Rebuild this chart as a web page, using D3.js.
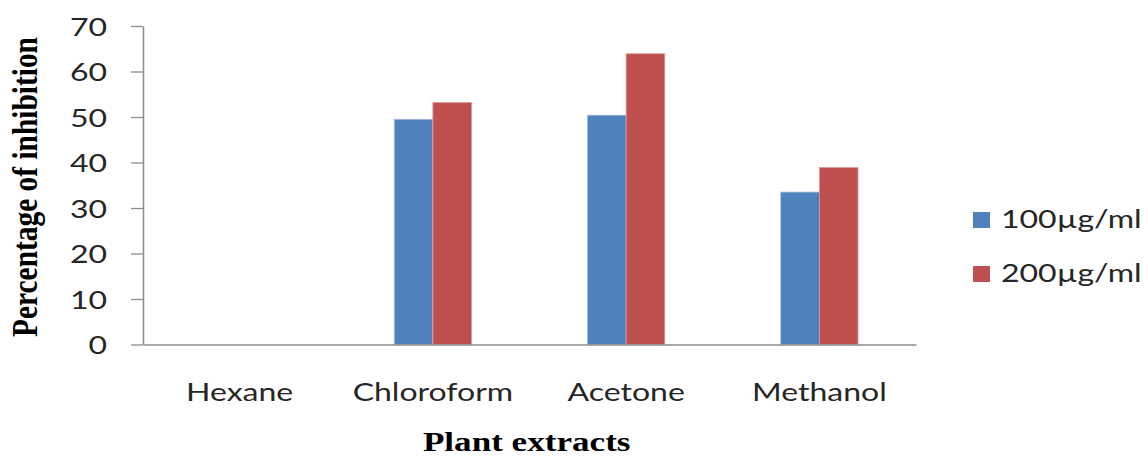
<!DOCTYPE html>
<html>
<head>
<meta charset="utf-8">
<script src="https://cdn.jsdelivr.net/npm/d3@7"></script>
<style>
  html, body { margin: 0; padding: 0; background: #fff; }
  svg { display: block; }
</style>
</head>
<body>
<svg id="chart" width="1148" height="457"></svg>
<script>
const categories = ["Hexane", "Chloroform", "Acetone", "Methanol"];
const seriesNames = ["100\u00b5g/ml", "200\u00b5g/ml"];
const values100 = [0, 49.5, 50.4, 33.5];
const values200 = [0, 53.2, 63.9, 38.9];
const yTicks = [0, 10, 20, 30, 40, 50, 60, 70];
const colors = ["#4F81BD", "#C0504D"];
const strokes = ["#a9c0e0", "#dc9b99"];

const svg = d3.select("#chart");
const SANS = "Lato, 'DejaVu Sans', sans-serif";
const SERIF = "'Liberation Serif', 'Times New Roman', serif";
const SX_SANS = 1.28, SX_SERIF = 1.3;

function stretch(sel, f) {
  sel.each(function () {
    const w = this.getComputedTextLength();
    d3.select(this).attr("textLength", w * f).attr("lengthAdjust", "spacingAndGlyphs");
  });
}

const x = d3.scaleBand().domain(categories).range([143, 916]).paddingInner(0.6).paddingOuter(0.3);
const xs = d3.scaleBand().domain(seriesNames).range([0, x.bandwidth()]);
const y = d3.scaleLinear().domain([0, 70]).range([344.5, 26]);

// bars
const data = categories.map((c, i) => ({ c, vals: [values100[i], values200[i]] }));
const groups = svg.append("g").selectAll("g").data(data).join("g")
  .attr("transform", d => `translate(${x(d.c)},0)`);
groups.selectAll("rect").data(d => d.vals.map((v, k) => ({ v, k })).filter(e => e.v > 0)).join("rect")
  .attr("x", e => xs(seriesNames[e.k]))
  .attr("width", xs.bandwidth())
  .attr("y", e => y(e.v))
  .attr("height", e => y(0) - y(e.v))
  .attr("fill", e => colors[e.k])
  .attr("stroke", e => strokes[e.k])
  .attr("stroke-width", 0.8);

// y axis
const yAxis = svg.append("g").attr("transform", "translate(143,0)")
  .call(d3.axisLeft(y).tickValues(yTicks).tickSize(12).tickPadding(24).tickSizeOuter(0));
yAxis.select(".domain").attr("stroke", "#8c8c8c").attr("stroke-width", 1.5);
yAxis.selectAll(".tick line").attr("stroke", "#8c8c8c").attr("stroke-width", 1.3);
yAxis.selectAll(".tick text").attr("font-family", SANS).attr("font-size", 25).attr("fill", "#262626").attr("dy", "0.36em");
stretch(yAxis.selectAll(".tick text"), SX_SANS);

// x axis
const xAxis = svg.append("g").attr("transform", `translate(0,${y(0)})`)
  .call(d3.axisBottom(x).tickSize(0).tickPadding(38.5).tickSizeOuter(0));
xAxis.select(".domain").attr("stroke", "#8c8c8c").attr("stroke-width", 1.5);
xAxis.selectAll(".tick text").attr("font-family", SANS).attr("font-size", 25).attr("fill", "#262626");
stretch(xAxis.selectAll(".tick text"), SX_SANS);

// axis titles
const yt = svg.append("text")
  .attr("transform", "translate(37,187) scale(1.3,1) rotate(-90)")
  .attr("text-anchor", "middle")
  .attr("font-family", SERIF).attr("font-weight", "bold").attr("font-size", 28)
  .attr("fill", "#000")
  .text("Percentage of inhibition");
stretch(yt, 1.05);

const xt = svg.append("text")
  .attr("x", 526.7).attr("y", 451)
  .attr("text-anchor", "middle")
  .attr("font-family", SERIF).attr("font-weight", "bold").attr("font-size", 27)
  .attr("fill", "#000")
  .text("Plant extracts");
stretch(xt, SX_SERIF);

// legend
const legend = svg.append("g").selectAll("g").data(seriesNames).join("g")
  .attr("transform", (d, i) => `translate(973,${212 + i * 54})`);
legend.append("rect").attr("width", 17).attr("height", 16).attr("fill", (d, i) => colors[i]);
const lt = legend.append("text").attr("x", 28).attr("y", 16)
  .attr("font-family", SANS).attr("font-size", 25).attr("fill", "#262626")
  .text(d => d);
stretch(lt, SX_SANS);
</script>
</body>
</html>
